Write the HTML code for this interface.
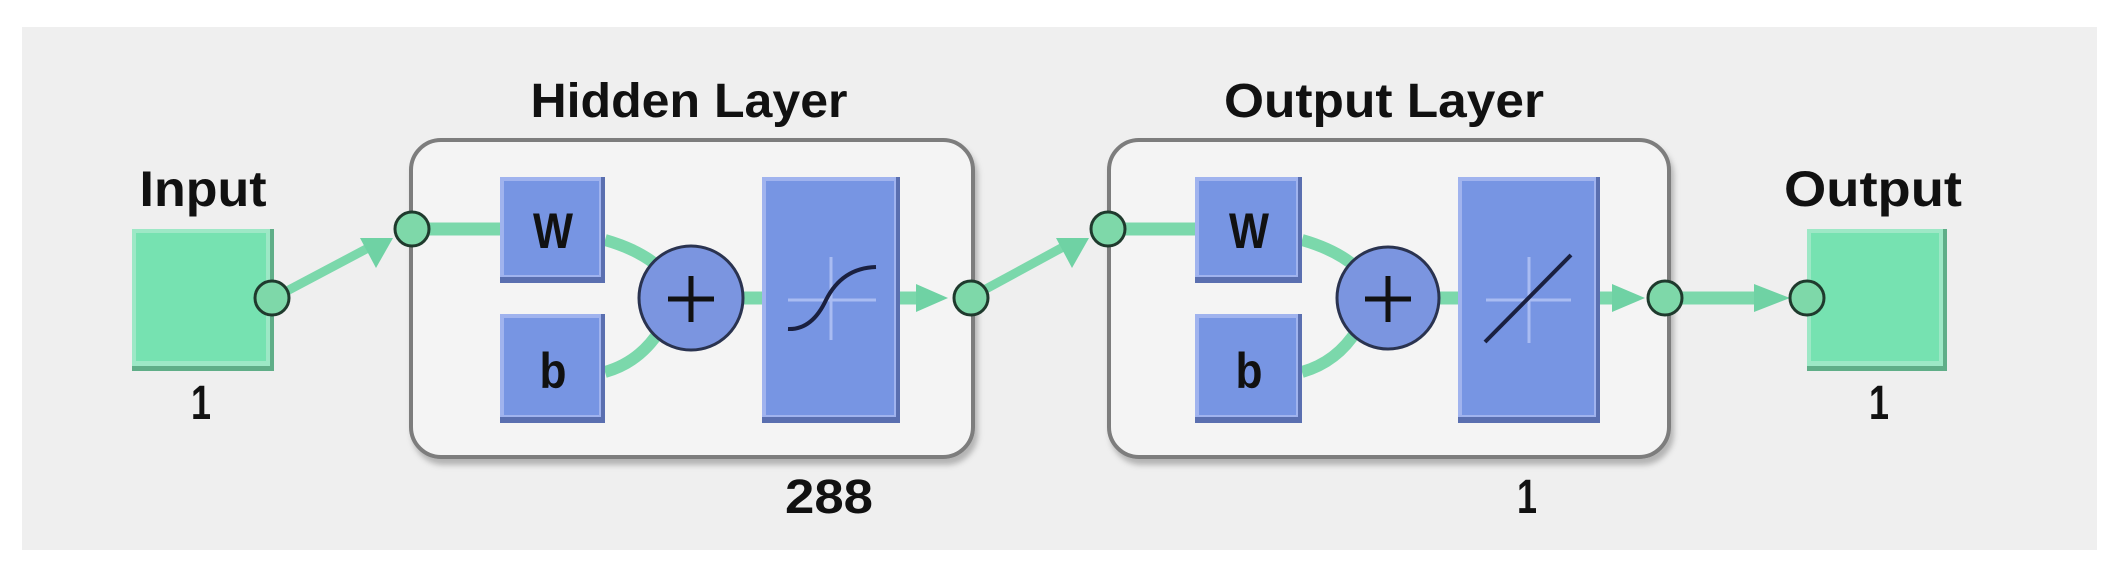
<!DOCTYPE html>
<html><head><meta charset="utf-8"><style>
html,body{margin:0;padding:0;background:#fff;}
svg{display:block}
text{font-family:"Liberation Sans",sans-serif;font-weight:bold;fill:#111;}
</style></head><body>
<svg width="2121" height="571" viewBox="0 0 2121 571" xmlns="http://www.w3.org/2000/svg">
<defs>
<filter id="sh" x="-10%" y="-10%" width="120%" height="130%"><feDropShadow dx="3" dy="6" stdDeviation="3" flood-color="#000" flood-opacity="0.25"/></filter>
</defs>
<rect x="22" y="27" width="2075" height="523" fill="#efefef"/>

<!-- labels -->
<text x="203" y="206" font-size="50" text-anchor="middle" textLength="127" lengthAdjust="spacingAndGlyphs">Input</text>
<text x="201" y="419" font-size="48" text-anchor="middle" textLength="20" lengthAdjust="spacingAndGlyphs">1</text>
<text x="689" y="117" font-size="48" text-anchor="middle" textLength="317" lengthAdjust="spacingAndGlyphs">Hidden Layer</text>
<text x="1384" y="117" font-size="48" text-anchor="middle" textLength="320" lengthAdjust="spacingAndGlyphs">Output Layer</text>
<text x="1873" y="206" font-size="50" text-anchor="middle" textLength="178" lengthAdjust="spacingAndGlyphs">Output</text>
<text x="1879" y="419" font-size="48" text-anchor="middle" textLength="20" lengthAdjust="spacingAndGlyphs">1</text>
<text x="829" y="513" font-size="48" text-anchor="middle" textLength="88" lengthAdjust="spacingAndGlyphs">288</text>
<text x="1527" y="513" font-size="48" text-anchor="middle" textLength="20" lengthAdjust="spacingAndGlyphs">1</text>

<!-- layer boxes -->
<rect x="411" y="140" width="562" height="317" rx="30" fill="#f4f4f4" stroke="#7d7d7d" stroke-width="4" filter="url(#sh)"/>
<rect x="1109" y="140" width="560" height="317" rx="30" fill="#f4f4f4" stroke="#7d7d7d" stroke-width="4" filter="url(#sh)"/>

<!-- Input / Output boxes -->
<g>
<rect x="132" y="229" width="142" height="142" fill="#5fae88"/>
<rect x="132" y="229" width="138" height="137" fill="#9de8c6"/>
<rect x="136" y="233" width="130" height="128" fill="#76e2b1"/>
<rect x="1807" y="229" width="140" height="142" fill="#5fae88"/>
<rect x="1807" y="229" width="136" height="137" fill="#9de8c6"/>
<rect x="1811" y="233" width="128" height="128" fill="#76e2b1"/>
</g>

<!-- connectors -->
<g stroke="#7bd8ab" fill="none" stroke-linecap="butt">
<line x1="285" y1="292" x2="370" y2="247" stroke-width="9"/>
<line x1="411" y1="229" x2="500" y2="229" stroke-width="13"/>
<path d="M605 240 Q640 250 660 268" stroke-width="12"/>
<path d="M605 372 Q640 362 660 330" stroke-width="12"/>
<line x1="744" y1="298" x2="762" y2="298" stroke-width="13"/>
<line x1="900" y1="298" x2="925" y2="298" stroke-width="13"/>
<line x1="984" y1="290" x2="1065" y2="246" stroke-width="9"/>
<line x1="1107" y1="229" x2="1195" y2="229" stroke-width="13"/>
<path d="M1302 240 Q1337 250 1357 268" stroke-width="12"/>
<path d="M1302 372 Q1337 362 1357 330" stroke-width="12"/>
<line x1="1439" y1="298" x2="1458" y2="298" stroke-width="13"/>
<line x1="1600" y1="298" x2="1620" y2="298" stroke-width="13"/>
<line x1="1665" y1="298" x2="1760" y2="298" stroke-width="13"/>
</g>
<g fill="#6fd2a4">
<polygon points="360,238 393,238 376,268"/>
<polygon points="1056,238 1089,238 1072,268"/>
<polygon points="916,284 948,298 916,312"/>
<polygon points="1612,284 1645,298 1612,312"/>
<polygon points="1754,284 1790,298 1754,312"/>
</g>

<!-- blue blocks -->
<g>
<rect x="500" y="177" width="105" height="106" fill="#5a6fb0"/><rect x="500" y="177" width="101" height="100" fill="#a0b3ee"/><rect x="504" y="181" width="95" height="94" fill="#7795e3"/>
<rect x="500" y="314" width="105" height="109" fill="#5a6fb0"/><rect x="500" y="314" width="101" height="103" fill="#a0b3ee"/><rect x="504" y="318" width="95" height="97" fill="#7795e3"/>
<rect x="762" y="177" width="138" height="246" fill="#5a6fb0"/><rect x="762" y="177" width="134" height="240" fill="#a0b3ee"/><rect x="766" y="181" width="128" height="234" fill="#7795e3"/>
<rect x="1195" y="177" width="107" height="106" fill="#5a6fb0"/><rect x="1195" y="177" width="103" height="100" fill="#a0b3ee"/><rect x="1199" y="181" width="97" height="94" fill="#7795e3"/>
<rect x="1195" y="314" width="107" height="109" fill="#5a6fb0"/><rect x="1195" y="314" width="103" height="103" fill="#a0b3ee"/><rect x="1199" y="318" width="97" height="97" fill="#7795e3"/>
<rect x="1458" y="177" width="142" height="246" fill="#5a6fb0"/><rect x="1458" y="177" width="138" height="240" fill="#a0b3ee"/><rect x="1462" y="181" width="132" height="234" fill="#7795e3"/>
</g>
<text x="553" y="248" font-size="50" text-anchor="middle" textLength="40" lengthAdjust="spacingAndGlyphs">W</text>
<text x="553" y="388" font-size="50" text-anchor="middle" textLength="27" lengthAdjust="spacingAndGlyphs">b</text>
<text x="1249" y="248" font-size="50" text-anchor="middle" textLength="40" lengthAdjust="spacingAndGlyphs">W</text>
<text x="1249" y="388" font-size="50" text-anchor="middle" textLength="27" lengthAdjust="spacingAndGlyphs">b</text>

<!-- transfer functions -->
<g stroke="#a9bcf2" stroke-width="3">
<line x1="831" y1="257" x2="831" y2="340"/><line x1="788" y1="300" x2="876" y2="300"/>
<line x1="1529" y1="257" x2="1529" y2="343"/><line x1="1486" y1="300" x2="1571" y2="300"/>
</g>
<path d="M788 329 Q812 330 826 300 Q842 268 876 267" stroke="#1a2040" stroke-width="4" fill="none"/>
<line x1="1485" y1="342" x2="1571" y2="255" stroke="#1a2040" stroke-width="4"/>

<!-- sum circles -->
<g>
<circle cx="691" cy="298" r="52" fill="#7b95e0" stroke="#2a3350" stroke-width="3"/>
<circle cx="1388" cy="298" r="51" fill="#7b95e0" stroke="#2a3350" stroke-width="3"/>
</g>
<g stroke="#111" stroke-width="5">
<line x1="691" y1="276" x2="691" y2="322"/><line x1="668" y1="299" x2="714" y2="299"/>
<line x1="1388" y1="276" x2="1388" y2="322"/><line x1="1365" y1="299" x2="1411" y2="299"/>
</g>

<!-- nodes -->
<g fill="#7ed8a9" stroke="#1f3a2d" stroke-width="3">
<circle cx="272" cy="298" r="17"/>
<circle cx="412" cy="229" r="17"/>
<circle cx="971" cy="298" r="17"/>
<circle cx="1108" cy="229" r="17"/>
<circle cx="1665" cy="298" r="17"/>
<circle cx="1807" cy="298" r="17"/>
</g>
</svg>
</body></html>
